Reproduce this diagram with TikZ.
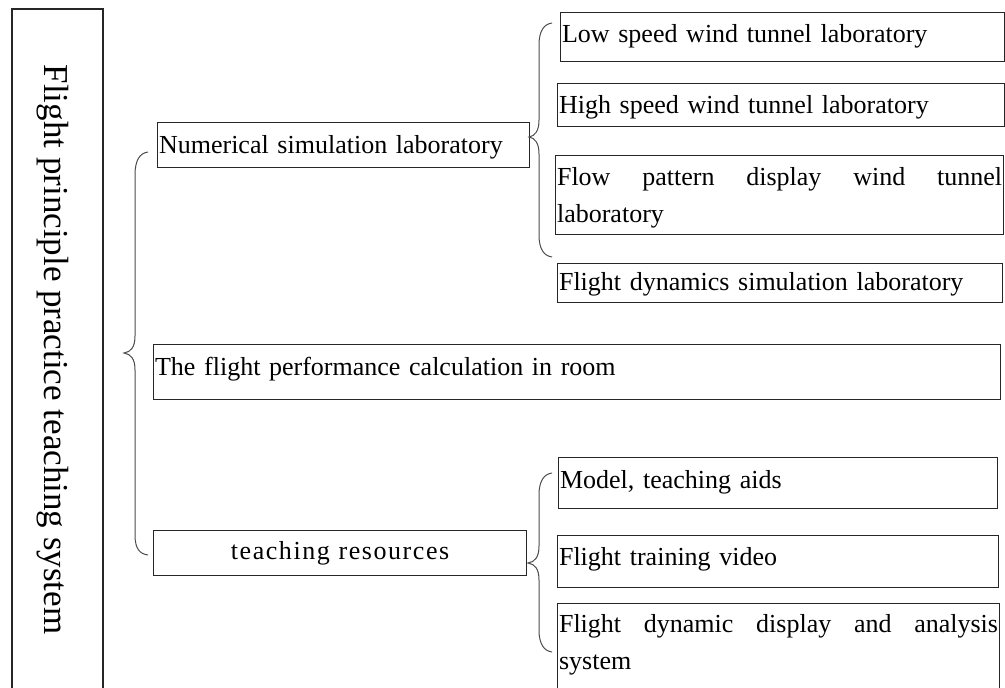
\documentclass[tikz,border=0pt]{standalone}
\usepackage{fontspec}
\setmainfont{Liberation Serif}
\newfontfamily\spacedfont[LetterSpace=6]{Liberation Serif}
\begin{document}
\begin{tikzpicture}[x=1pt,y=-1pt,
  box/.style={draw=black!85, line width=1.1pt, anchor=north west, inner xsep=1.5pt, inner ysep=0pt,
    align=left, font=\fontsize{26}{37}\selectfont, text depth=6pt},
  brace/.style={draw=black!70, line width=1pt},
  titlebox/.style={draw=black!85, line width=1.1pt, rotate=-90, inner sep=0pt,
    font=\fontsize{35}{40}\selectfont, text height=33pt, text depth=8pt}]
\useasboundingbox (0,0) rectangle (1005,688);
% title
\node[titlebox, minimum width=681pt, minimum height=91pt] (title) at (57.5,349.5) {Flight principle practice teaching system};
% level 1
\node[box, text width=369pt, minimum height=45pt, text height=23pt] (num) at (157,122) {Numerical simulation laboratory};
\node[box, text width=844pt, minimum height=55pt, text height=13pt] (perf) at (153,344) {The flight performance calculation in room};
\node[box, align=center, text width=370pt, minimum height=45pt, text height=19pt, font={\fontsize{26}{37}\spacedfont}] (teach) at (153,530) {teaching resources};
% level 2 (numerical)
\node[box, text width=441pt, minimum height=49pt, text height=17pt] (low) at (560,12) {Low speed wind tunnel laboratory};
\node[box, text width=444pt, minimum height=43pt, text height=23pt] (high) at (557,83) {High speed wind tunnel laboratory};
\node[box, text width=445pt, minimum height=79pt, text height=24pt, text depth=43pt] (flow) at (555,155) {\hbox to 445pt{Flow\hfill pattern\hfill display\hfill wind\hfill tunnel}\\laboratory};
\node[box, text width=442pt, minimum height=39pt, text height=21pt] (fdyn) at (557,263) {Flight dynamics simulation laboratory};
% level 2 (teaching)
\node[box, text width=436pt, minimum height=51pt, text height=17pt] (model) at (558,457) {Model, teaching aids};
\node[box, text width=438pt, minimum height=52pt, text height=14pt] (video) at (557,535) {Flight training video};
\node[box, text width=439pt, minimum height=87pt, text height=15pt, text depth=44pt] (fdisp) at (557,603) {\hbox to 439pt{Flight\hfill dynamic\hfill display\hfill and\hfill analysis}\\system};
% brace tips
\coordinate (b1t) at (148,152); \coordinate (b1m) at (124,353); \coordinate (b1b) at (148,555);
\coordinate (b2t) at (552,23);  \coordinate (b2m) at (529,137); \coordinate (b2b) at (552,257);
\coordinate (b3t) at (552,473); \coordinate (b3m) at (528,563); \coordinate (b3b) at (552,652);
% main brace
\draw[brace] (b1t) .. controls (140,153) and (135,160) .. (135,175) -- (135,336)
  .. controls (135,347) and (131,352) .. (b1m) .. controls (131,354) and (135,359) .. (135,370)
  -- (135,535) .. controls (135,549) and (140,554) .. (b1b);
% numerical brace
\draw[brace] (b2t) .. controls (544,24) and (539,31) .. (539,45) -- (539,120)
  .. controls (539,131) and (535,136) .. (b2m) .. controls (535,138) and (539,143) .. (539,154)
  -- (539,235) .. controls (539,249) and (544,256) .. (b2b);
% teaching brace
\draw[brace] (b3t) .. controls (544,474) and (539,481) .. (539,495) -- (539,546)
  .. controls (539,557) and (535,562) .. (b3m) .. controls (535,564) and (539,569) .. (539,580)
  -- (539,630) .. controls (539,644) and (544,651) .. (b3b);
\end{tikzpicture}
\end{document}
